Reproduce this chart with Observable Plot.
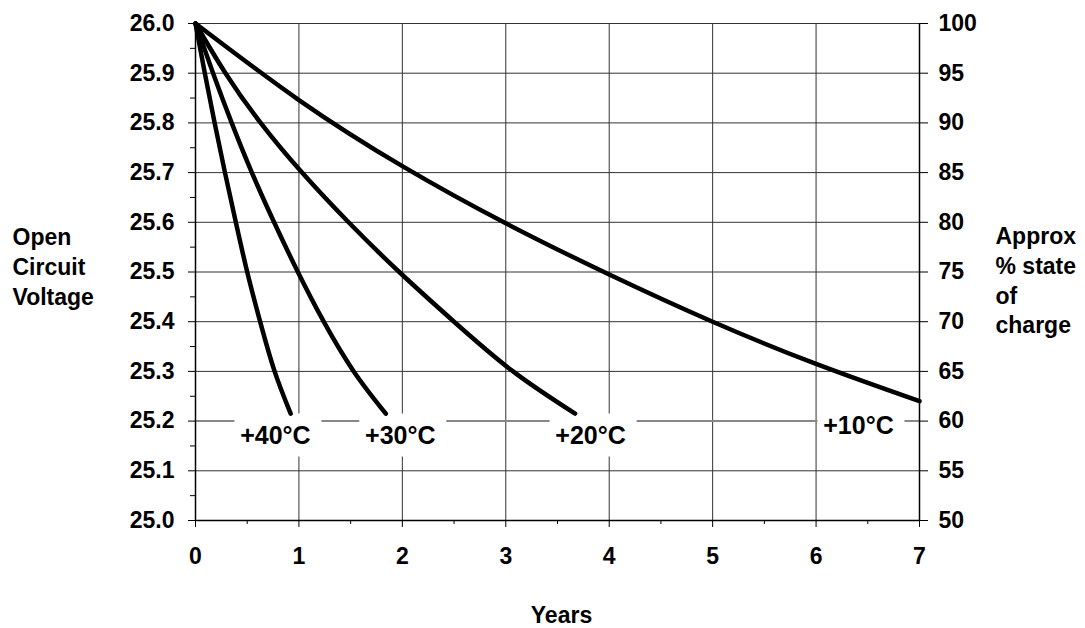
<!DOCTYPE html>
<html>
<head>
<meta charset="utf-8">
<script src="https://cdn.jsdelivr.net/npm/d3@7"></script>
<script src="https://cdn.jsdelivr.net/npm/@observablehq/plot@0.6"></script>
<style>
  html, body { margin: 0; padding: 0; background: #fff; }
</style>
</head>
<body>
<div id="chart"></div>
<script>
// ---- data ----
const seriesNames = ["+10°C", "+20°C", "+30°C", "+40°C"];

const years10 = [0, 1, 2, 3, 4, 5, 6, 7];
const volts10 = [26.0, 25.846, 25.713, 25.598, 25.495, 25.40, 25.315, 25.24];

const years20 = [0, 0.29, 0.63, 1.03, 1.48, 1.97, 2.50, 3.07, 3.67];
const volts20 = [26.0, 25.9, 25.8, 25.7, 25.6, 25.5, 25.4, 25.3, 25.215];

const years30 = [0, 0.17, 0.35, 0.545, 0.76, 0.99, 1.24, 1.53, 1.84];
const volts30 = [26.0, 25.9, 25.8, 25.7, 25.6, 25.5, 25.4, 25.3, 25.215];

const years40 = [0, 0.09, 0.185, 0.285, 0.39, 0.50, 0.625, 0.765, 0.92];
const volts40 = [26.0, 25.9, 25.8, 25.7, 25.6, 25.5, 25.4, 25.3, 25.215];

const labelYears = [6.41, 3.82, 1.98, 0.773];
const labelVolts = [25.19, 25.171, 25.171, 25.171];

const yearTicks = [0, 1, 2, 3, 4, 5, 6, 7];
const yearMinorTicks = [0.5, 1.5, 2.5, 3.5, 4.5, 5.5, 6.5];
const voltTicks = [25.0, 25.1, 25.2, 25.3, 25.4, 25.5, 25.6, 25.7, 25.8, 25.9, 26.0];
const voltMinorTicks = [25.05, 25.15, 25.25, 25.35, 25.45, 25.55, 25.65, 25.75, 25.85, 25.95];
const socTicks = [50, 55, 60, 65, 70, 75, 80, 85, 90, 95, 100];

const yTitle = "Open\nCircuit\nVoltage";
const y2Title = "Approx\n% state\nof\ncharge";
const xTitle = "Years";

// ---- build table ----
const allYears = [years10, years20, years30, years40];
const allVolts = [volts10, volts20, volts30, volts40];
const table = [];
seriesNames.forEach((s, i) => {
  allYears[i].forEach((t, j) => table.push({series: s, year: t, volt: allVolts[i][j]}));
});
const labels = seriesNames.map((s, i) => ({series: s, year: labelYears[i], volt: labelVolts[i]}));

const socToVolt = p => 25 + (p - 50) / 50;
const voltToSoc = v => Math.round(50 + (v - 25) * 50);

// rectangular white box behind labels (style only)
const boxSymbol = { draw(ctx) { ctx.rect(-41, -22, 87, 43); } };

const font = "'Liberation Sans', Arial, Helvetica, sans-serif";

const chart = Plot.plot({
  width: 1085,
  height: 628,
  marginLeft: 195,
  marginRight: 166,
  marginTop: 23,
  marginBottom: 108,
  style: {fontFamily: font, fontWeight: "bold", fontSize: "23px", color: "#000", background: "#fff"},
  x: {domain: [0, 7]},
  y: {domain: [25, 26]},
  marks: [
    Plot.gridY(voltTicks.filter(v => v !== 25.2 && v !== 25.0), {stroke: "#333", strokeOpacity: 1, strokeWidth: 1}),
    Plot.gridX(yearTicks.filter(t => t !== 0 && t !== 7), {stroke: "#333", strokeOpacity: 1, strokeWidth: 1}),
    Plot.ruleY([25.2], {stroke: "#888", strokeWidth: 2}),
    Plot.ruleX([0, 7], {stroke: "#000", strokeWidth: 1.5}),
    Plot.ruleY([25], {stroke: "#000", strokeWidth: 1.5}),
    Plot.dot(labels, {x: "year", y: "volt", symbol: boxSymbol, fill: "white", stroke: null}),
    Plot.line(table, {x: "year", y: "volt", z: "series", curve: "natural", stroke: "#000", strokeWidth: 4.5, strokeLinecap: "round"}),
    Plot.text(labels, {x: "year", y: "volt", text: "series", fontSize: 25, fontWeight: "bold", fill: "#000"}),
    // axes
    Plot.axisX({ticks: yearTicks, tickFormat: d => String(d), tickSize: 7, tickPadding: 20, label: null, fontSize: 23, fontWeight: "bold"}),
    Plot.axisX({ticks: yearMinorTicks, tickSize: 4, text: null, label: null}),
    Plot.axisY({ticks: voltTicks, tickFormat: d => d.toFixed(1), tickSize: 7, tickPadding: 14, label: null, fontSize: 23, fontWeight: "bold"}),
    Plot.axisY({ticks: voltMinorTicks, tickSize: 5, text: null, label: null}),
    Plot.axisY({anchor: "right", ticks: socTicks.map(socToVolt), tickFormat: v => String(voltToSoc(v)), tickSize: 8, tickPadding: 11, label: null, fontSize: 23, fontWeight: "bold"}),
    // titles
    Plot.text([yTitle], {frameAnchor: "top-left", text: d => d, textAnchor: "start", lineAnchor: "top", lineHeight: 1.3, dx: -183, dy: 200, fontSize: 23, fontWeight: "bold"}),
    Plot.text([y2Title], {frameAnchor: "top-right", text: d => d, textAnchor: "start", lineAnchor: "top", lineHeight: 1.3, dx: 76, dy: 199, fontSize: 23, fontWeight: "bold"}),
    Plot.text([xTitle], {frameAnchor: "bottom", text: d => d, textAnchor: "middle", lineAnchor: "top", dx: 4, dy: 86, fontSize: 23, fontWeight: "bold"})
  ]
});
document.getElementById("chart").appendChild(chart);
</script>
</body>
</html>
